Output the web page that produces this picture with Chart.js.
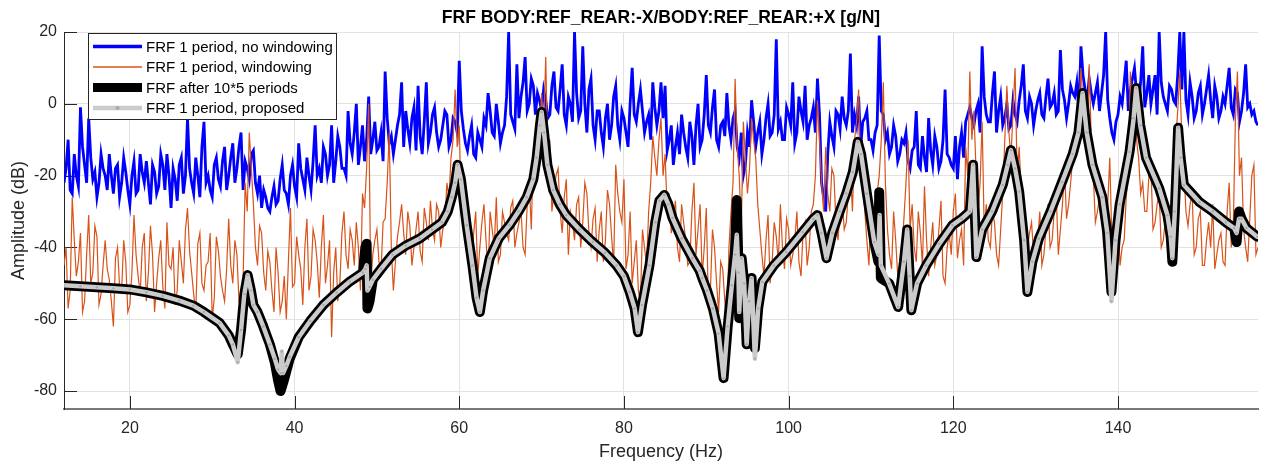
<!DOCTYPE html>
<html>
<head>
<meta charset="utf-8">
<title>FRF BODY:REF_REAR</title>
<script src="https://cdn.jsdelivr.net/npm/chart.js@4.4.0/dist/chart.umd.min.js"></script>
<style>
  html, body { margin: 0; padding: 0; background: #fff; }
  #wrap { width: 1263px; height: 464px; }
</style>
</head>
<body>
<div id="wrap"><canvas id="frf" width="1263" height="464"></canvas></div>
<script>
// axis ticks
const xTicks = [20, 40, 60, 80, 100, 120, 140];
const yTicks = [-80, -60, -40, -20, 0, 20];

// the two noisy estimates: values at 12, 12.5, 13 ... Hz and the in-between
// samples at 12.25, 12.75 ... Hz
const noisyStart = 12;
const noisyStep = 0.25;

// FRF 1 period, no windowing (dB)
const blueDb = [
  -22, -10, -25, -20, -1, -17, -4, -21, -26, -14,
  -20, -14, -25, -17, -22, -19, -28, -16, -24, -19,
  -16, -28, -19, -23, -17, -14, -29, -21, -17, -25,
  -4, -22, -15, -26, -5, -20, -26, -15, -23, -12,
  -20, -11, -18, -8, -16, -21, -13, -25, -29, -26,
  -30, -23, -27, -17, -25, -20, -23, -11, -21, -15,
  -24, -6, -18, -12, -20, -6, -16, -12, -18, -2,
  -14, 0, -12, -16, 2, -10, -13, -8, 9, -11,
  -14, -6, 6, -2, -11, -1, 5, -14, 6, -8,
  -1, -12, -6, -3, -10, -5, 12, -7, -13, -6,
  -15, -10, -4, 3, -8, 0, -11, -6, 20, -5,
  11, 2, 13, 0, 5, 3, -2, 1, -3, 9,
  -2, 11, -6, 0, 20, -4, 16, -8, 7, -10,
  -2, -12, 0, -6, 5, -10, -4, -12, 10, -5,
  4, -8, -3, 6, -6, 6, 5, -10, -17, -8,
  -3, -12, -5, -17, 0, -10, 8, -8, 4, -12,
  -5, 3, -10, -2, -15, -20, -8, 1, -12, -5,
  -10, 0, -8, 18, -5, -10, -3, 6, -8, -2,
  5, -6, -1, 7, -22, -30, -5, -12, -3, 2,
  -6, 14, -3, 2, -5, -2, -10, -8, 19, -3,
  -8, -12, -9, -14, -11, -16, -13, -2, -18, -15,
  -4, -17, -12, -16, 4, -15, -18, -21, -8, -5,
  -1, -6, 0, 16, -3, -5, 9, -2, -6, 0,
  -6, -3, 1, 11, -4, 0, -2, 3, -4, 7,
  0, -3, 15, 1, 0, 3, 6, 16, 4, 7,
  0, 6, 3, 20, -4, -10, -3, 0, 12, 4,
  10, 1, 16, 3, 0, 8, 20, 2, -2, 4,
  0, 20, 20, -3, 2, -2, 5, 0, 8, -4,
  2, -2, 0, 10, -3, 3, -2, 11, 0, -2,
  -6
];
const blueMidDb = [
  -18, -24, -14, -23, -12, -22, -15, -19, -22, -18,
  -24, -20, -18, -26, -15, -24, -20, -25, -14, -22,
  -22, -17, -25, -14, -24, -20, -18, -27, -15, -20,
  -18, -25, -20, -12, -22, -24, -17, -21, -16, -24,
  -15, -22, -12, -24, -18, -14, -22, -20, -24, -29,
  -26, -28, -21, -24, -28, -17, -26, -18, -24, -20,
  -16, -20, -22, -14, -17, -22, -9, -18, -20, -11,
  -8, -17, -6, -10, -14, -5, -12, -16, -4, -9,
  -10, -3, -12, -7, -4, -13, -9, -5, -11, -3,
  -8, -10, -2, -12, -4, -8, -2, -11, -9, -14,
  -8, -12, -6, -2, -9, -5, -8, 2, -3, -7,
  -4, 6, -2, 7, -3, 1, 4, -4, 5, -1,
  4, -3, 2, -5, 3, -2, 0, 4, -6, -2,
  -8, -4, -10, 2, -6, -2, -8, 0, -3, 0,
  -2, -5, -10, -1, -2, -4, -13, -6, -12, -14,
  -8, -15, -9, -6, -12, -3, -6, -1, -10, -6,
  -9, -6, -4, -12, -8, -17, -12, -5, -8, -14,
  -4, -9, -3, -7, -10, -1, -6, -11, 2, -5,
  -10, -4, -8, -3, -26, -14, -9, -2, -7, -4,
  -2, -8, -6, -12, -4, -10, -13, -6, -2, -10,
  -14, -6, -16, -10, -8, -18, -12, -17, -9, -19,
  -13, -9, -18, -10, -14, -17, -9, -12, -15, -3,
  -4, -2, -8, 2, -5, 3, -8, 2, -4, -7,
  1, -5, 5, -2, 2, -6, 1, -3, 2, -1,
  3, -2, 4, -4, 5, 2, -2, 8, 1, 3,
  3, -2, 8, 1, -8, -5, 2, 6, -2, 7,
  3, 6, -1, 8, 4, -3, 6, 0, 5, 1,
  8, 4, 1, 6, -4, 3, -3, 4, 1, 5,
  -4, 2, 5, -1, 4, -5, 3, -1, -3, -5
];

// FRF 1 period, windowing (dB)
const orangeDb = [
  -45, -57, -26, -48, -36, -55, -31, -47, -37, -53,
  -38, -49, -62, -40, -52, -44, -56, -31, -48, -40,
  -55, -34, -58, -43, -51, -33, -46, -56, -38, -50,
  -29, -47, -58, -36, -52, -44, -60, -37, -48, -55,
  -32, -50, -42, -57, -22, -8, -28, -45, -36, -52,
  -44, -58, -47, -55, -60, -29, -50, -42, -56, -32,
  -48, -38, -54, -31, -45, -65, -40, -50, -30, -46,
  -38, -33, -52, -29, 0, -42, -35, -47, -32, -8,
  -52, -37, -28, -42, -34, -40, -30, -44, -33, -27,
  -38, -30, -35, -22, -15, 4, -6, -22, -33, -45,
  -30, -40, -28, -47, -35, -26, -42, -33, -38, -27,
  -36, -30, -42, -22, -13, -4, 3, 13, -10, -25,
  -18, -36, -21, -30, -38, -26, -33, -25, -40, -29,
  -35, -44, -24, -37, -17, -30, -21, -42, -50, -38,
  -55, -40, -30, -9, -20, -4, -14, -25, -32, -40,
  -28, -38, -44, -22, -35, -48, -29, -52, -40, -58,
  -46, -62, -30, 7, -20, -5, -25, -4, -15, -35,
  -48, -31, -44, -37, -28, -46, -35, -42, -30, -48,
  -33, -40, -28, 1, -22, -12, -30, -20, -38, -26,
  -33, -18, -10, 4, -22, -38, -30, -42, -20, 6,
  -35, -46, -38, -52, -32, -10, -28, -44, -36, -23,
  -48, -33, -42, -27, -50, -36, -30, -43, -35, -12,
  9, -2, -30, -5, -28, -40, -33, -45, -25, 5,
  -15, 10, -12, -30, -40, -33, -46, -30, -42, -28,
  -38, -25, -35, -18, -28, -15, -5, 10, -3, 11,
  -20, -30, -24, -36, -15, -44, -32, -40, -26, 9,
  -2, -15, -22, -30, -18, -33, -25, -38, -28, -42,
  -10, 9, -18, -34, -25, -40, -30, -45, -33, -28,
  -42, -36, -45, -22, -34, 9, -15, -40, -32, -17,
  -40
];
const orangeMidDb = [
  -40, -52, -38, -44, -58, -42, -50, -34, -56, -45,
  -46, -55, -43, -51, -38, -58, -47, -42, -53, -36,
  -47, -42, -50, -38, -57, -45, -40, -52, -44, -35,
  -41, -53, -39, -50, -45, -36, -54, -41, -52, -46,
  -45, -38, -55, -49, -30, -18, -40, -34, -47, -41,
  -52, -40, -58, -48, -44, -51, -37, -46, -40, -52,
  -35, -44, -40, -50, -38, -47, -55, -36, -42, -35,
  -45, -40, -25, -18, -50, -38, -44, -33, -22, -40,
  -44, -33, -36, -30, -45, -35, -41, -29, -38, -35,
  -28, -40, -33, -26, -10, -12, -30, -38, -40, -36,
  -48, -33, -38, -30, -40, -44, -30, -36, -29, -40,
  -33, -40, -28, -35, -18, -10, -8, -16, -30, -20,
  -30, -26, -42, -33, -28, -40, -22, -36, -32, -44,
  -30, -38, -28, -45, -25, -33, -46, -30, -44, -52,
  -35, -45, -22, -15, -10, -20, -30, -36, -27, -44,
  -33, -45, -30, -42, -28, -40, -55, -35, -50, -44,
  -55, -40, -22, -12, -35, -15, -18, -10, -28, -42,
  -38, -50, -33, -44, -40, -32, -45, -38, -44, -36,
  -45, -30, -20, -10, -30, -25, -18, -33, -28, -35,
  -25, -30, -5, -20, -30, -45, -35, -25, -10, -22,
  -42, -30, -48, -40, -22, -35, -40, -30, -45, -38,
  -40, -45, -35, -48, -40, -42, -25, -38, -45, -20,
  -10, -18, -22, -35, -38, -30, -42, -35, -10, -8,
  -2, -20, -25, -38, -36, -42, -38, -45, -35, -40,
  -30, -42, -28, -32, -22, -12, -2, 0, -15, -10,
  -33, -26, -40, -28, -38, -30, -45, -38, -18, -5,
  -10, -25, -30, -20, -35, -28, -40, -32, -44, -30,
  -2, -10, -30, -28, -42, -32, -45, -38, -40, -46,
  -38, -44, -30, -40, -5, -20, -35, -44, -20, -42
];

// FRF after 10*5 periods
const blackFreq = [
  12, 14, 16, 18, 20, 22, 24, 26, 27.7, 29, 30.9, 32, 32.5, 33.1, 33.5, 33.9, 34.3, 34.7, 35.0, 35.5,
  36.2, 37.0, 37.6, 38.0, 38.3, 38.7, 39.4, 40.5, 41.9, 43.5, 45.1, 46.7, 48.3, 48.6, 48.75, 48.85, 49.1, 49.5, 50.5, 51.9,
  53.5, 55.2, 56.7, 57.9, 58.6, 59.1, 59.5, 59.8, 60.2, 60.9, 61.6, 62.1, 62.5, 62.9, 63.7, 64.8, 66.1, 67.2, 68.2, 69.0,
  69.4, 69.8, 70.0, 70.3, 70.7, 71.4, 72.2, 73.0, 74.6, 76.2, 77.7, 79.1, 80.0, 80.7, 81.3, 81.7, 82.2, 83.1, 83.8, 84.3,
  84.9, 85.4, 85.9, 87.0, 88.3, 89.2, 89.5, 90.1, 90.8, 91.5, 92.1, 92.6, 93.1, 93.5, 93.7, 93.9, 94.0, 94.3, 94.6, 94.9,
  95.2, 95.5, 95.9, 96.3, 96.8, 98.2, 99.7, 101.7, 103.0, 103.5, 104.0, 104.6, 105.3, 106.2, 107.0, 107.8, 108.4, 108.8, 109.5, 110.4,
  110.9, 111.0, 111.2, 112.2, 113.3, 114.0, 114.4, 114.7, 114.9, 115.6, 116.7, 118.3, 119.9, 121.0, 122.0, 122.4, 122.8, 123.5, 124.7, 126.0,
  126.6, 127.0, 127.5, 128.0, 128.6, 129.0, 129.6, 130.4, 131.8, 133.2, 134.5, 135.2, 135.7, 136.2, 136.9, 138.1, 138.7, 139.2, 139.7, 140.2,
  141.4, 141.9, 142.2, 142.7, 143.4, 145.0, 146.0, 146.4, 146.6, 146.9, 147.3, 147.6, 148.0, 149.9, 151.5, 153.1, 154.1, 154.4, 154.7, 155.0,
  155.6, 156.9
];
const blackDb = [
  -50.5, -50.8, -51.1, -51.4, -51.7, -52.5, -53.5, -54.8, -56.2, -58, -61, -64.5, -67, -69.8, -63, -53, -47.7, -52, -56, -58,
  -62, -67, -72, -77, -80, -77, -71, -65, -60.5, -56, -52.6, -49.5, -47, -40, -39, -57, -55, -49, -46, -42,
  -39.5, -37.5, -35, -33, -30, -26, -22, -17, -21, -33.8, -45, -54, -58, -52, -43, -37.5, -33.8, -30, -26, -21,
  -15, -6, -2.3, -8, -17, -24, -28, -31, -35, -38.5, -41.5, -45, -48, -52.4, -57, -63.6, -56, -45, -33, -27,
  -25.4, -28, -31.8, -37.5, -43, -46.5, -48.5, -52, -57, -64, -76.4, -62, -50.5, -40, -26.8, -45, -59.7, -43, -50, -67,
  -55, -48.5, -68, -57, -49.6, -45, -41.3, -35.7, -32, -31, -36, -43, -36, -30, -25, -19, -10.6, -14, -25, -38.5,
  -44, -24.6, -48.5, -50, -56.6, -44, -35, -48, -57.5, -50, -45, -39, -33.8, -32, -30, -17, -42.7, -35, -30, -22.6,
  -17, -12.9, -18, -24.5, -38, -52.4, -44, -37.5, -30, -21.8, -14, -8, 3, -8, -17, -26, -36, -52.4, -38, -28,
  -13.4, -4, 4.4, -6, -15, -23.5, -31, -37, -44, -30, -6.7, -15, -22.6, -27.4, -30, -33, -34.6, -38.5, -30, -32,
  -34.6, -37
];

// FRF 1 period, proposed
const grayFreq = [
  12, 14, 16, 18, 20, 22, 24, 26, 27.7, 29, 30.9, 32, 32.5, 33.1, 33.5, 33.9, 34.3, 34.7, 35.0, 35.5,
  36.2, 37.0, 37.6, 38.0, 38.3, 38.45, 38.6, 39.0, 39.4, 40.5, 41.9, 43.5, 45.1, 46.7, 48.3, 48.6, 48.75, 48.85, 49.1, 49.5,
  50.5, 51.9, 53.5, 55.2, 56.7, 57.9, 58.6, 59.1, 59.5, 59.8, 60.2, 60.9, 61.6, 62.1, 62.5, 62.9, 63.7, 64.8, 66.1, 67.2,
  68.2, 69.0, 69.4, 69.8, 70.0, 70.3, 70.7, 71.4, 72.2, 73.0, 74.6, 76.2, 77.7, 79.1, 80.0, 80.7, 81.3, 81.7, 82.2, 83.1,
  83.8, 84.3, 84.9, 85.4, 85.9, 87.0, 88.3, 89.2, 89.5, 90.1, 90.8, 91.5, 92.1, 92.6, 93.1, 93.5, 93.7, 93.9, 94.0, 94.3,
  94.6, 94.9, 95.2, 95.5, 95.9, 96.3, 96.8, 98.2, 99.7, 101.7, 103.0, 103.5, 104.0, 104.6, 105.3, 106.2, 107.0, 107.8, 108.4, 108.8,
  109.5, 110.4, 110.9, 111.05, 111.2, 112.2, 113.3, 114.0, 114.4, 114.7, 114.9, 115.6, 116.7, 118.3, 119.9, 121.0, 122.0, 122.4, 122.8, 123.5,
  124.7, 126.0, 126.6, 127.0, 127.5, 128.0, 128.6, 129.0, 129.6, 130.4, 131.8, 133.2, 134.5, 135.2, 135.7, 136.2, 136.9, 138.1, 138.7, 139.2,
  139.7, 140.2, 141.4, 141.9, 142.2, 142.7, 143.4, 145.0, 146.0, 146.4, 146.6, 146.9, 147.3, 147.6, 148.0, 149.9, 151.5, 153.1, 154.1, 154.4,
  154.7, 155.0, 155.6, 156.9
];
const grayDb = [
  -50.5, -50.8, -51.1, -51.4, -51.7, -52.5, -53.5, -54.8, -56.2, -58, -61, -64.5, -67, -72, -63, -53, -47.7, -52, -56, -58,
  -62, -67, -71, -74, -75, -69, -75, -73, -70.5, -65, -60.5, -56, -52.6, -49.5, -47, -46, -45, -52, -51, -49,
  -46, -42, -39.5, -37.5, -35, -33, -30, -26, -22, -17, -21, -33.8, -45, -54, -58, -52, -43, -37.5, -33.8, -30,
  -26, -21, -15, -6, -2.3, -8, -17, -24, -28, -31, -35, -38.5, -41.5, -45, -48, -52.4, -57, -63.6, -56, -45,
  -33, -27, -25.4, -28, -31.8, -37.5, -43, -46.5, -48.5, -52, -57, -64, -76.4, -62, -50.5, -42, -36.5, -47, -58, -43,
  -50, -67, -55, -48.5, -71, -57, -49.6, -45, -41.3, -35.7, -32, -31, -36, -43, -36, -30, -25, -19, -10.6, -14,
  -25, -38.5, -42, -31, -45, -50, -56.6, -44, -35, -48, -57.5, -50, -45, -39, -33.8, -32, -30, -17, -42.7, -35,
  -30, -22.6, -17, -12.9, -18, -24.5, -38, -52.4, -44, -37.5, -30, -21.8, -14, -8, 3, -8, -17, -26, -36, -55,
  -38, -28, -13.4, -4, 4.4, -6, -15, -23.5, -31, -37, -43, -30, -6.7, -15, -22.6, -27.4, -30, -33, -34.6, -36,
  -32, -32, -34.6, -37
];

// interleave the 0.5 Hz samples with the in-between ones on a 0.25 Hz grid
function noisyPoints(main, mid) {
  const pts = [];
  main.forEach((v, i) => {
    pts.push({ x: noisyStart + 2 * i * noisyStep, y: v });
    if (i < mid.length) pts.push({ x: noisyStart + (2 * i + 1) * noisyStep, y: mid[i] });
  });
  return pts;
}
const pairPoints = (fs, vals) => fs.map((f, i) => ({ x: f, y: vals[i] }));

Chart.defaults.font.family = '"Liberation Sans", Arial, Helvetica, sans-serif';
Chart.defaults.color = '#262626';

// MATLAB style ticks pointing into the axes
const innerTicks = {
  id: 'innerTicks',
  beforeDatasetsDraw(chart) {
    const { ctx, chartArea: a, scales } = chart;
    ctx.save();
    ctx.strokeStyle = '#262626';
    ctx.lineWidth = 1;
    ctx.beginPath();
    xTicks.forEach(v => {
      const px = Math.round(scales.x.getPixelForValue(v)) + 0.5;
      ctx.moveTo(px, a.bottom);
      ctx.lineTo(px, a.bottom - 13);
    });
    yTicks.forEach(v => {
      const py = Math.round(scales.y.getPixelForValue(v)) + 0.5;
      ctx.moveTo(a.left, py);
      ctx.lineTo(a.left + 13, py);
    });
    ctx.stroke();
    ctx.restore();
  }
};

// title centred over the plot area, and the boxed legend inside it
const titleAndLegend = {
  id: 'titleAndLegend',
  afterDraw(chart) {
    const { ctx, chartArea: a } = chart;
    ctx.save();
    ctx.fillStyle = '#000';
    ctx.font = 'bold 17.5px "Liberation Sans", Arial, sans-serif';
    ctx.textAlign = 'center';
    ctx.textBaseline = 'middle';
    ctx.fillText('FRF BODY:REF_REAR:-X/BODY:REF_REAR:+X [g/N]', (a.left + a.right) / 2, 18);

    const bx = a.left + 24, by = a.top + 1, bw = 248, bh = 86;
    ctx.fillStyle = '#fff';
    ctx.fillRect(bx, by, bw, bh);
    ctx.strokeStyle = '#262626';
    ctx.lineWidth = 1;
    ctx.strokeRect(bx + 0.5, by + 0.5, bw, bh);

    ctx.font = '15px "Liberation Sans", Arial, sans-serif';
    ctx.textAlign = 'left';
    chart.data.datasets.forEach((ds, i) => {
      const ry = by + 13.5 + i * 20.5;
      ctx.strokeStyle = ds.borderColor;
      ctx.lineWidth = ds.legendWidth;
      ctx.lineCap = 'butt';
      ctx.beginPath();
      ctx.moveTo(bx + 5, ry);
      ctx.lineTo(bx + 54, ry);
      ctx.stroke();
      if (ds.pointRadius > 0) {
        ctx.fillStyle = ds.pointBackgroundColor;
        ctx.beginPath();
        ctx.arc(bx + 29.5, ry, 2, 0, Math.PI * 2);
        ctx.fill();
      }
      ctx.fillStyle = '#000';
      ctx.fillText(ds.label, bx + 58, ry + 1);
    });
    ctx.restore();
  }
};

new Chart(document.getElementById('frf'), {
  type: 'line',
  data: {
    datasets: [
      {
        label: 'FRF 1 period, no windowing',
        data: noisyPoints(blueDb, blueMidDb),
        borderColor: '#0000ff',
        borderWidth: 2.8,
        legendWidth: 3.5,
        pointRadius: 0,
        order: 4,
      },
      {
        label: 'FRF 1 period, windowing',
        data: noisyPoints(orangeDb, orangeMidDb),
        borderColor: '#d95319',
        borderWidth: 1.2,
        legendWidth: 1.5,
        pointRadius: 0,
        order: 3,
      },
      {
        label: 'FRF after 10*5 periods',
        data: pairPoints(blackFreq, blackDb),
        borderColor: '#000000',
        borderWidth: 10,
        legendWidth: 9,
        pointRadius: 0,
        borderJoinStyle: 'round',
        borderCapStyle: 'round',
        order: 2,
      },
      {
        label: 'FRF 1 period, proposed',
        data: pairPoints(grayFreq, grayDb),
        borderColor: '#cbcbcb',
        borderWidth: 4.5,
        legendWidth: 4.5,
        pointRadius: 1.2,
        pointBorderWidth: 0,
        pointBackgroundColor: '#a9a9a9',
        borderJoinStyle: 'round',
        borderCapStyle: 'round',
        order: 1,
      },
    ],
  },
  options: {
    responsive: false,
    animation: false,
    devicePixelRatio: 1,
    layout: { padding: { top: 32, right: 5, left: 0, bottom: 0 } },
    datasets: { line: { tension: 0, clip: 0 } },
    plugins: {
      legend: { display: false },
      title: { display: false },
      tooltip: { enabled: false },
    },
    scales: {
      x: {
        type: 'linear',
        min: 12,
        max: 157,
        afterBuildTicks: (s) => { s.ticks = xTicks.map(v => ({ value: v })); },
        afterFit: (s) => { s.height = 55; },
        ticks: { font: { size: 16 }, color: '#262626', padding: 10, maxRotation: 0, callback: (v) => String(v) },
        grid: { color: '#e2e2e2', lineWidth: 1, drawTicks: false },
        border: { color: '#7a7a7a', width: 2 },
        title: { display: true, text: 'Frequency (Hz)', font: { size: 18 }, color: '#262626', padding: { top: 0, bottom: 1 } },
      },
      y: {
        min: -85,
        max: 20,
        afterBuildTicks: (s) => { s.ticks = yTicks.map(v => ({ value: v })); },
        afterFit: (s) => { s.width = 64; },
        ticks: { font: { size: 16 }, color: '#262626', padding: 7, callback: (v) => String(v) },
        grid: { color: '#e2e2e2', lineWidth: 1, drawTicks: false },
        border: { color: '#262626', width: 1 },
        title: { display: true, text: 'Amplitude (dB)', font: { size: 18 }, color: '#262626', padding: { top: 8, bottom: 0 } },
      },
    },
  },
  plugins: [innerTicks, titleAndLegend],
});
</script>
</body>
</html>
